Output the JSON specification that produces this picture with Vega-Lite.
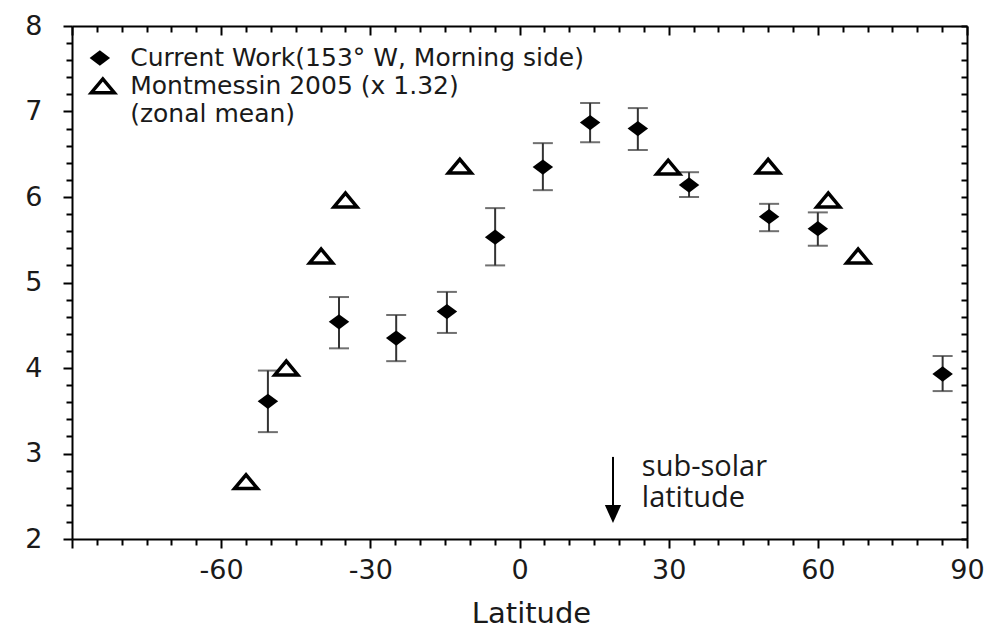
{
  "$schema": "https://vega.github.io/schema/vega-lite/v6.json",
  "width": 895,
  "height": 513,
  "autosize": "none",
  "padding": {"left": 72, "top": 26, "right": 28, "bottom": 91},
  "background": "white",
  "config": {"view": {"stroke": null}},
  "datasets": {
    "current": [
      {"lat": -50.6, "w": 3.61, "lo": 3.25, "hi": 3.97},
      {"lat": -36.3, "w": 4.54, "lo": 4.23, "hi": 4.83},
      {"lat": -24.8, "w": 4.35, "lo": 4.08, "hi": 4.62},
      {"lat": -14.6, "w": 4.66, "lo": 4.41, "hi": 4.89},
      {"lat": -4.9, "w": 5.53, "lo": 5.2, "hi": 5.87},
      {"lat": 4.7, "w": 6.35, "lo": 6.08, "hi": 6.63},
      {"lat": 14.2, "w": 6.87, "lo": 6.64, "hi": 7.1},
      {"lat": 23.8, "w": 6.8, "lo": 6.55, "hi": 7.04},
      {"lat": 34.1, "w": 6.14, "lo": 6.0, "hi": 6.29},
      {"lat": 50.2, "w": 5.77, "lo": 5.6, "hi": 5.92},
      {"lat": 60.0, "w": 5.63, "lo": 5.43, "hi": 5.82},
      {"lat": 85.1, "w": 3.93, "lo": 3.73, "hi": 4.14}
    ],
    "montmessin": [
      {"lat": -55.0, "w": 2.67},
      {"lat": -46.9, "w": 4.0},
      {"lat": -39.9, "w": 5.31},
      {"lat": -35.0, "w": 5.965},
      {"lat": -12.0, "w": 6.36},
      {"lat": 29.9, "w": 6.35},
      {"lat": 50.0, "w": 6.36},
      {"lat": 62.1, "w": 5.965},
      {"lat": 68.1, "w": 5.31}
    ]
  },
  "layer": [
    {
      "data": {"name": "current"},
      "mark": {"type": "errorbar", "ticks": {"size": 20, "thickness": 2, "color": "#333"}, "rule": {"strokeWidth": 2, "color": "#333"}},
      "encoding": {
        "x": {"field": "lat", "type": "quantitative", "scale": {"domain": [-90, 90], "nice": false}, "axis": null},
        "y": {"field": "lo", "type": "quantitative", "scale": {"domain": [2, 8], "nice": false, "zero": false}, "axis": null},
        "y2": {"field": "hi"}
      }
    },
    {
      "data": {"name": "current"},
      "mark": {"type": "point", "shape": "M-1,0L0,-0.75L1,0L0,0.75Z", "size": 420, "filled": true, "color": "black", "opacity": 1},
      "encoding": {
        "x": {"field": "lat", "type": "quantitative", "scale": {"domain": [-90, 90], "nice": false},
          "axis": {"orient": "bottom", "title": "Latitude", "grid": false,
            "values": [-90,-85,-80,-75,-70,-65,-60,-55,-50,-45,-40,-35,-30,-25,-20,-15,-10,-5,0,5,10,15,20,25,30,35,40,45,50,55,60,65,70,75,80,85,90],
            "labelExpr": "datum.value % 30 === 0 && datum.value > -90 ? '' + datum.value : ''",
            "tickSize": {"condition": {"test": "datum.value % 30 === 0", "value": 9}, "value": 6},
            "tickWidth": 2, "tickColor": "black", "domainColor": "black", "domainWidth": 2,
            "labelFont": "DejaVu Sans", "labelFontSize": 27, "labelColor": "#1a1a1a", "labelPadding": 9,
            "labelFlush": false, "labelOverlap": false,
            "titleFont": "DejaVu Sans", "titleFontSize": 29, "titleFontWeight": "normal", "titleColor": "#1a1a1a",
            "titlePadding": 16, "titleX": 459}},
        "y": {"field": "w", "type": "quantitative", "scale": {"domain": [2, 8], "nice": false, "zero": false},
          "axis": {"orient": "left", "title": null, "grid": false,
            "values": [2,2.2,2.4,2.6,2.8,3,3.2,3.4,3.6,3.8,4,4.2,4.4,4.6,4.8,5,5.2,5.4,5.6,5.8,6,6.2,6.4,6.6,6.8,7,7.2,7.4,7.6,7.8,8],
            "labelExpr": "abs(datum.value - round(datum.value)) < 0.01 ? '' + round(datum.value) : ''",
            "tickSize": {"condition": {"test": "abs(datum.value - round(datum.value)) < 0.01", "value": 9}, "value": 6},
            "tickWidth": 2, "tickColor": "black", "domainColor": "black", "domainWidth": 2,
            "labelFont": "DejaVu Sans", "labelFontSize": 27, "labelColor": "#1a1a1a", "labelPadding": 21,
            "labelOverlap": false}}
      }
    },
    {
      "data": {"name": "montmessin"},
      "mark": {"type": "point", "shape": "M-1,0.6L1,0.6L0,-0.6Z", "size": 529, "fill": "white", "stroke": "black", "strokeWidth": 3.5, "opacity": 1},
      "encoding": {
        "x": {"field": "lat", "type": "quantitative", "scale": {"domain": [-90, 90], "nice": false},
          "axis": {"orient": "top", "title": null, "grid": false, "labels": false,
            "values": [-90,-85,-80,-75,-70,-65,-60,-55,-50,-45,-40,-35,-30,-25,-20,-15,-10,-5,0,5,10,15,20,25,30,35,40,45,50,55,60,65,70,75,80,85,90],
            "tickSize": {"condition": {"test": "datum.value % 30 === 0", "value": -9}, "value": -6},
            "tickWidth": 2, "tickColor": "black", "domainColor": "black", "domainWidth": 2}},
        "y": {"field": "w", "type": "quantitative", "scale": {"domain": [2, 8], "nice": false, "zero": false},
          "axis": {"orient": "right", "title": null, "grid": false, "labels": false,
            "values": [2,2.2,2.4,2.6,2.8,3,3.2,3.4,3.6,3.8,4,4.2,4.4,4.6,4.8,5,5.2,5.4,5.6,5.8,6,6.2,6.4,6.6,6.8,7,7.2,7.4,7.6,7.8,8],
            "tickSize": -6,
            "tickWidth": 2, "tickColor": "black", "domainColor": "black", "domainWidth": 2}}
      }
    },
    {
      "data": {"values": [{}]},
      "mark": {"type": "point", "shape": "M-1,0L0,-0.75L1,0L0,0.75Z", "size": 420, "filled": true, "color": "black", "opacity": 1},
      "encoding": {"x": {"datum": -84.4, "type": "quantitative", "axis": null}, "y": {"datum": 7.626, "type": "quantitative", "axis": null}}
    },
    {
      "data": {"values": [{}]},
      "mark": {"type": "point", "shape": "M-1,0.6L1,0.6L0,-0.6Z", "size": 529, "fill": "white", "stroke": "black", "strokeWidth": 3.5, "opacity": 1},
      "encoding": {"x": {"datum": -83.8, "type": "quantitative", "axis": null}, "y": {"datum": 7.3, "type": "quantitative", "axis": null}}
    },
    {
      "data": {"values": [{}]},
      "mark": {"type": "text", "align": "left", "baseline": "middle", "font": "DejaVu Sans", "fontSize": 25, "color": "#1a1a1a"},
      "encoding": {"x": {"datum": -78.3, "type": "quantitative", "axis": null}, "y": {"datum": 7.626, "type": "quantitative", "axis": null}, "text": {"value": "Current Work(153° W, Morning side)"}}
    },
    {
      "data": {"values": [{}]},
      "mark": {"type": "text", "align": "left", "baseline": "middle", "font": "DejaVu Sans", "fontSize": 25, "color": "#1a1a1a"},
      "encoding": {"x": {"datum": -78.3, "type": "quantitative", "axis": null}, "y": {"datum": 7.298, "type": "quantitative", "axis": null}, "text": {"value": "Montmessin 2005 (x 1.32)"}}
    },
    {
      "data": {"values": [{}]},
      "mark": {"type": "text", "align": "left", "baseline": "middle", "font": "DejaVu Sans", "fontSize": 25, "color": "#1a1a1a"},
      "encoding": {"x": {"datum": -78.3, "type": "quantitative", "axis": null}, "y": {"datum": 6.975, "type": "quantitative", "axis": null}, "text": {"value": "(zonal mean)"}}
    },
    {
      "data": {"values": [{}]},
      "mark": {"type": "rule", "strokeWidth": 2, "color": "black"},
      "encoding": {"x": {"datum": 18.8, "type": "quantitative", "axis": null}, "y": {"datum": 2.96, "type": "quantitative", "axis": null}, "y2": {"datum": 2.33}}
    },
    {
      "data": {"values": [{}]},
      "mark": {"type": "point", "shape": "M-0.9,-1L0.9,-1L0,1Z", "size": 324, "filled": true, "color": "black", "opacity": 1},
      "encoding": {"x": {"datum": 18.8, "type": "quantitative", "axis": null}, "y": {"datum": 2.292, "type": "quantitative", "axis": null}}
    },
    {
      "data": {"values": [{}]},
      "mark": {"type": "text", "align": "left", "baseline": "alphabetic", "font": "Open Sans", "fontSize": 29, "color": "#1a1a1a"},
      "encoding": {"x": {"datum": 24.6, "type": "quantitative", "axis": null}, "y": {"datum": 2.737, "type": "quantitative", "axis": null}, "text": {"value": "sub-solar"}}
    },
    {
      "data": {"values": [{}]},
      "mark": {"type": "text", "align": "left", "baseline": "alphabetic", "font": "Open Sans", "fontSize": 29, "color": "#1a1a1a"},
      "encoding": {"x": {"datum": 24.6, "type": "quantitative", "axis": null}, "y": {"datum": 2.374, "type": "quantitative", "axis": null}, "text": {"value": "latitude"}}
    }
  ],
  "resolve": {"axis": {"x": "independent", "y": "independent"}}
}
